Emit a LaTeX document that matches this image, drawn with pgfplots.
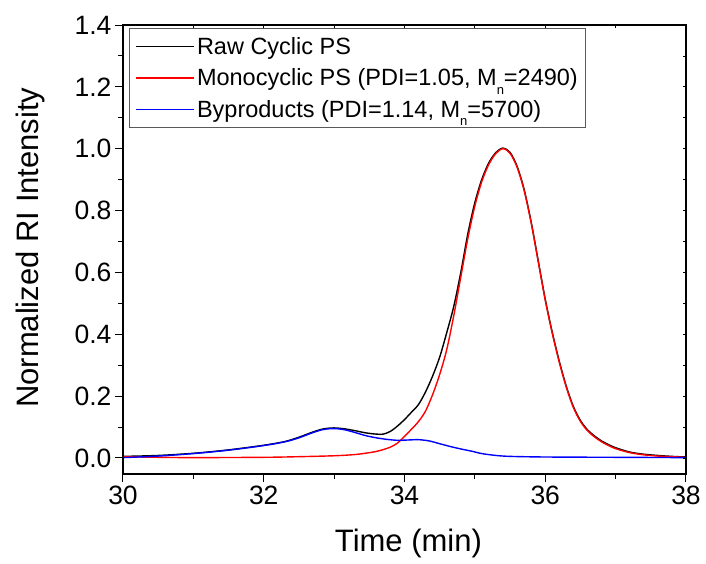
\documentclass[border=0pt]{standalone}
\usepackage{fontspec}
\setmainfont{Liberation Sans}
\usepackage{pgfplots}
\pgfplotsset{compat=1.18}
\definecolor{pureRed}{RGB}{255,0,0}
\definecolor{pureBlue}{RGB}{0,0,255}
\newcommand{\sub}[1]{\raisebox{-8.5pt}[0pt][13pt]{\fontsize{13}{13}\selectfont #1}}

\pgfplotstableread{
t v
30.0 0.005
30.5 0.008
31.0 0.015
31.5 0.026
32.0 0.041
32.3 0.053
32.5 0.067
32.7 0.084
32.85 0.094
33.0 0.097
33.15 0.094
33.3 0.088
33.45 0.081
33.6 0.077
33.7 0.077
33.8 0.086
33.9 0.103
34.0 0.124
34.1 0.148
34.2 0.173
34.3 0.214
34.4 0.265
34.5 0.326
34.6 0.405
34.7 0.49
34.8 0.60
34.9 0.725
35.0 0.826
35.1 0.902
35.2 0.955
35.3 0.988
35.4 1.002
35.5 0.988
35.6 0.943
35.7 0.868
35.8 0.763
35.9 0.638
36.0 0.513
36.1 0.406
36.2 0.312
36.3 0.231
36.4 0.166
36.5 0.121
36.6 0.091
36.7 0.071
36.8 0.055
36.9 0.043
37.0 0.033
37.2 0.019
37.4 0.012
37.6 0.008
37.8 0.005
38.0 0.003
}\rawdata

\pgfplotstableread{
t v
30.0 0.004
30.5 0.002
31.0 0.001
32.0 0.002
32.5 0.004
33.0 0.007
33.3 0.011
33.5 0.017
33.6 0.021
33.7 0.027
33.8 0.035
33.9 0.048
34.0 0.070
34.1 0.093
34.2 0.118
34.3 0.152
34.4 0.205
34.5 0.27
34.6 0.35
34.7 0.46
34.8 0.585
34.9 0.71
35.0 0.815
35.1 0.895
35.2 0.95
35.3 0.985
35.4 1.0
35.5 0.985
35.6 0.94
35.7 0.865
35.8 0.76
35.9 0.635
36.0 0.51
36.1 0.403
36.2 0.309
36.3 0.228
36.4 0.163
36.5 0.118
36.6 0.088
36.7 0.068
36.8 0.052
36.9 0.040
37.0 0.030
37.2 0.017
37.4 0.010
37.6 0.006
37.8 0.004
38.0 0.002
}\monodata

\pgfplotstableread{
t v
30.0 0.001
30.5 0.006
31.0 0.014
31.5 0.025
32.0 0.040
32.3 0.052
32.5 0.065
32.7 0.082
32.85 0.092
33.0 0.095
33.15 0.091
33.3 0.082
33.45 0.072
33.6 0.065
33.75 0.060
33.9 0.057
34.05 0.058
34.2 0.059
34.35 0.055
34.5 0.046
34.65 0.037
34.8 0.029
34.95 0.022
35.1 0.014
35.3 0.008
35.5 0.005
36.0 0.003
37.0 0.002
38.0 0.001
}\byprod

\begin{document}
\begin{tikzpicture}
\path[use as bounding box] (-123pt,-89pt) rectangle (583pt,474pt);
\begin{axis}[
  at={(0,0)}, anchor=south west,
  scale only axis, width=563pt, height=449pt,
  xmin=30, xmax=38, ymin=-0.052, ymax=1.4,
  xtick={30,32,34,36,38}, minor xtick={31,33,35,37},
  ytick={0,0.2,0.4,0.6,0.8,1.0,1.2,1.4},
  minor ytick={0.1,0.3,0.5,0.7,0.9,1.1,1.3},
  yticklabel style={/pgf/number format/.cd, fixed, fixed zerofill, precision=1},
  /pgf/number format/assume math mode=true,
  tick pos=left, tick align=outside,
  major tick length=8pt, minor tick length=4.5pt,
  every tick/.style={black, line width=1pt},
  axis line style={line width=1.2pt},
  ticklabel style={font=\fontsize{26.5}{26.5}\selectfont},
  xlabel={Time (min)}, ylabel={Normalized RI Intensity},
  label style={font=\fontsize{31}{31}\selectfont},
  xlabel style={at={(axis description cs:0.507,-0.154)}, anchor=center},
  ylabel style={at={(axis description cs:-0.165,0.504)}, anchor=center, rotate=0},
  legend style={at={(axis description cs:0.0107,0.9927)}, anchor=north west,
    draw=black!65, line width=0.8pt, font=\fontsize{23.5}{26}\selectfont,
    inner xsep=6pt, inner ysep=6.5pt, row sep=9pt},
  legend cell align=left,
  legend image code/.code={\draw[#1, line width=1.8pt] (0pt,0pt) -- (51pt,0pt); \path (0pt,0pt) -- (58pt,0pt);},
]
\addplot[black, line width=1.4pt, smooth] table {\rawdata};
\addlegendentry{Raw Cyclic PS}
\addplot[pureRed, line width=1.4pt, smooth] table {\monodata};
\addlegendentry{Monocyclic PS (PDI=1.05, M\sub{n}=2490)}
\addplot[pureBlue, line width=1.4pt, smooth] table {\byprod};
\addlegendentry{Byproducts (PDI=1.14, M\sub{n}=5700)}
\end{axis}
\begin{axis}[
  at={(0,0)}, anchor=south west,
  scale only axis, width=563pt, height=449pt,
  xmin=30, xmax=38, ymin=-0.052, ymax=1.4,
  xtick={30,32,34,36,38}, minor xtick={31,33,35,37},
  ytick={0,0.2,0.4,0.6,0.8,1.0,1.2,1.4},
  minor ytick={0.1,0.3,0.5,0.7,0.9,1.1,1.3},
  xticklabels={}, yticklabels={},
  tick pos=right, tick align=inside,
  major tick length=3pt, minor tick length=3pt,
  every tick/.style={black, line width=0.8pt},
  axis line style={line width=1.2pt},
]
\end{axis}
\end{tikzpicture}
\end{document}
